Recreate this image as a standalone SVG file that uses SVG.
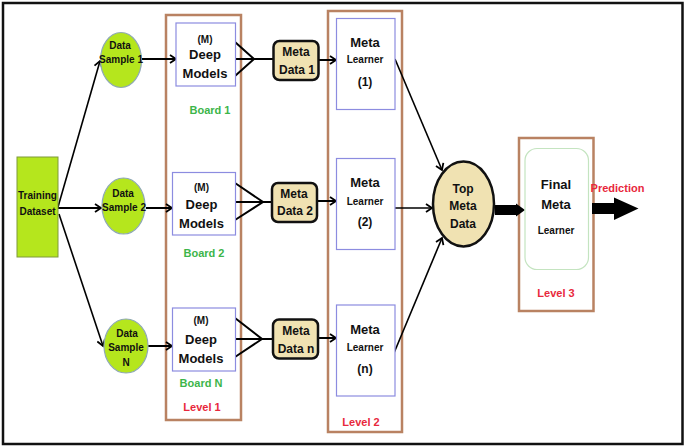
<svg xmlns="http://www.w3.org/2000/svg" width="685" height="448" viewBox="0 0 685 448">
<defs>
<marker id="arr" markerWidth="10" markerHeight="10" refX="7" refY="5" orient="auto" markerUnits="userSpaceOnUse">
<path d="M1,1 L7,5 L1,9" fill="none" stroke="#000" stroke-width="1.8"/>
</marker>
<style>
text{font-family:"Liberation Sans",Arial,sans-serif;font-weight:bold;text-anchor:middle;fill:#111}
.sm{font-size:10px}
.md{font-size:12px}
.lg{font-size:13px}
.green{fill:#3cb54a;font-size:11px}
.red{fill:#e8283c;font-size:11px}
.lvl{fill:none;stroke:#b98262;stroke-width:2.5}
.blue{fill:#fff;stroke:#8c8ce0;stroke-width:1.2}
.samp{fill:#b5e61d;stroke:#8fa9b5;stroke-width:1.2}
.meta{fill:#f0e2b2;stroke:#111;stroke-width:2.5}
.ln{fill:none;stroke:#000;stroke-width:2}
.thin{fill:none;stroke:#000;stroke-width:1.6}
</style>
</defs>
<rect x="0" y="0" width="685" height="448" fill="#fff"/>
<rect x="3" y="3" width="679.5" height="441" fill="none" stroke="#111" stroke-width="2.5"/>

<g id="level1-frame"><rect class="lvl" x="166" y="15" width="75" height="405"/><text class="red" x="202" y="411">Level 1</text></g>
<g id="level2-frame"><rect class="lvl" x="328" y="11" width="74" height="421"/><text class="red" x="361" y="426">Level 2</text></g>
<g id="level3-frame"><rect class="lvl" x="519" y="138" width="74.5" height="173"/><text class="red" x="556" y="297">Level 3</text></g>

<g id="connectors">
<line class="thin" x1="58" y1="207" x2="100" y2="61" marker-end="url(#arr)"/>
<line class="ln" x1="58" y1="208" x2="101" y2="208" marker-end="url(#arr)"/>
<line class="thin" x1="59" y1="214" x2="103" y2="346" marker-end="url(#arr)"/>
<line class="ln" x1="141" y1="59" x2="176" y2="59" marker-end="url(#arr)"/>
<line class="ln" x1="146" y1="208" x2="172" y2="208" marker-end="url(#arr)"/>
<line class="ln" x1="148" y1="346" x2="172" y2="346" marker-end="url(#arr)"/>
<path class="ln" d="M235,42 L254,59 L235,76 M235,59 L273,59"/>
<path class="ln" d="M235,183 L263,202 L235,220 M235,202 L272,202"/>
<path class="ln" d="M235,318 L262,339 L235,357 M235,339 L273,339"/>
<line class="ln" x1="318" y1="60" x2="336" y2="60" marker-end="url(#arr)"/>
<line class="ln" x1="317" y1="201" x2="336" y2="201" marker-end="url(#arr)"/>
<line class="ln" x1="318" y1="338" x2="336" y2="338" marker-end="url(#arr)"/>
<line class="thin" x1="395" y1="59" x2="442" y2="170" marker-end="url(#arr)"/>
<line class="thin" x1="395" y1="208" x2="432" y2="208" marker-end="url(#arr)"/>
<line class="thin" x1="394" y1="353" x2="442" y2="238" marker-end="url(#arr)"/>
<path d="M495,205 L516,205 L516,203.5 L525,210 L516,216.5 L516,215 L495,215 Z" fill="#000"/>
<path d="M592,203 L614,203 L614,197.5 L638.5,208.5 L614,220 L614,214 L592,214 Z" fill="#000"/>
</g>

<g id="training-dataset"><rect x="17" y="157" width="41" height="100" fill="#b5e61d" stroke="#7f9a3a" stroke-width="1"/><text class="sm" x="37.5" y="199">Training</text><text class="sm" x="37.5" y="215">Dataset</text></g>

<g id="data-sample-1"><ellipse class="samp" cx="121" cy="60" rx="20.5" ry="27.5"/><text class="sm" x="120" y="49">Data</text><text class="sm" x="121" y="63">Sample 1</text></g>
<g id="data-sample-2"><ellipse class="samp" cx="123.5" cy="206" rx="21.5" ry="28"/><text class="sm" x="123" y="196.5">Data</text><text class="sm" x="124" y="211">Sample 2</text></g>
<g id="data-sample-n"><ellipse class="samp" cx="126" cy="346" rx="22" ry="27"/><text class="sm" x="127" y="336.5">Data</text><text class="sm" x="126" y="350.5">Sample</text><text class="sm" x="126" y="366">N</text></g>

<g id="deep-models-1"><rect class="blue" x="176" y="23" width="59.5" height="63"/><text class="sm" x="205" y="42.5">(M)</text><text class="lg" x="205" y="59">Deep</text><text class="lg" x="205" y="78">Models</text></g>
<g id="deep-models-2"><rect class="blue" x="172.5" y="172.5" width="63" height="62.5"/><text class="sm" x="201.5" y="191">(M)</text><text class="lg" x="201.5" y="209">Deep</text><text class="lg" x="201.5" y="228">Models</text></g>
<g id="deep-models-n"><rect class="blue" x="172.5" y="308" width="63" height="63"/><text class="sm" x="201" y="323.5">(M)</text><text class="lg" x="201" y="344">Deep</text><text class="lg" x="201" y="362.5">Models</text></g>

<g id="board-labels"><text class="green" x="210" y="114">Board 1</text><text class="green" x="204" y="257">Board 2</text><text class="green" x="201" y="387">Board N</text></g>

<g id="meta-data-1"><rect class="meta" x="273.5" y="41" width="45" height="39" rx="6"/><text class="md" x="296" y="56">Meta</text><text class="md" x="297" y="74">Data 1</text></g>
<g id="meta-data-2"><rect class="meta" x="272" y="183" width="45" height="39" rx="6"/><text class="md" x="294" y="197.5">Meta</text><text class="md" x="295" y="215">Data 2</text></g>
<g id="meta-data-n"><rect class="meta" x="273" y="319.5" width="45" height="39" rx="6"/><text class="md" x="296" y="335">Meta</text><text class="md" x="296" y="353">Data n</text></g>

<g id="meta-learner-1"><rect class="blue" x="336.5" y="18.5" width="58.5" height="91"/><text class="lg" x="365" y="47">Meta</text><text class="sm" x="365" y="63">Learner</text><text class="md" x="365" y="86">(1)</text></g>
<g id="meta-learner-2"><rect class="blue" x="336.5" y="158.5" width="58.5" height="91"/><text class="lg" x="365" y="187">Meta</text><text class="sm" x="365" y="204.5">Learner</text><text class="md" x="365" y="226">(2)</text></g>
<g id="meta-learner-n"><rect class="blue" x="336.5" y="305" width="58.5" height="91"/><text class="lg" x="365" y="334">Meta</text><text class="sm" x="365" y="350.5">Learner</text><text class="md" x="365" y="372.5">(n)</text></g>

<g id="top-meta-data"><ellipse class="meta" cx="463.5" cy="204" rx="30.5" ry="42.5"/><text class="md" x="463" y="192.5">Top</text><text class="md" x="463" y="210">Meta</text><text class="md" x="463" y="227.5">Data</text></g>

<g id="final-meta-learner"><rect x="525" y="148.5" width="63.5" height="121" rx="12" fill="#fff" stroke="#c4e4c0" stroke-width="1.2"/><text class="lg" x="556" y="189">Final</text><text class="lg" x="556" y="209">Meta</text><text class="sm" x="556" y="234">Learner</text></g>

<g id="prediction-label"><text class="red" x="617.5" y="191.5">Prediction</text></g>
</svg>
